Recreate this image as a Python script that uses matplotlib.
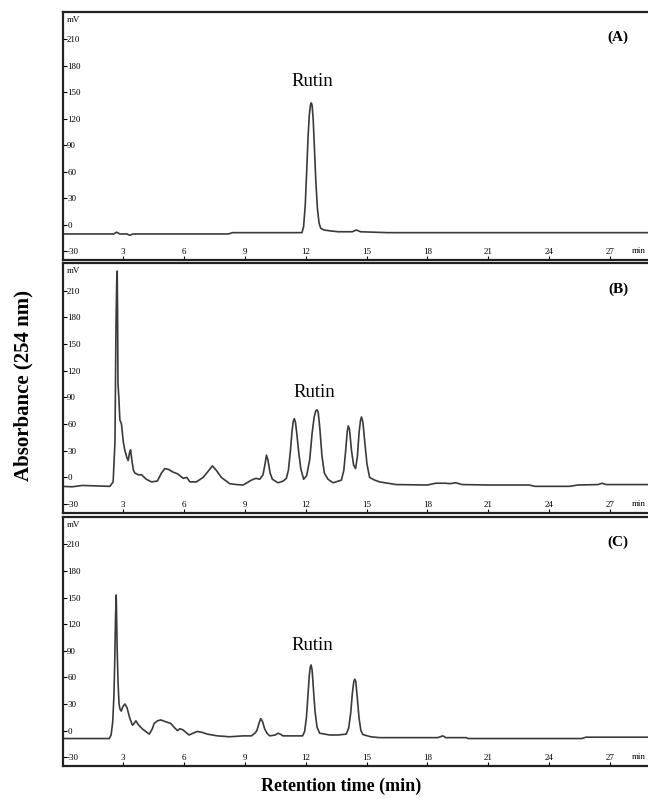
import matplotlib
matplotlib.use("Agg")
import matplotlib.pyplot as plt

plt.rcParams["font.family"] = ["Liberation Serif", "DejaVu Serif"]
plt.rcParams["axes.unicode_minus"] = False

# (A) rutin standard
time_a = [0.0, 1.0, 2.0, 2.55, 2.69, 2.85, 3.2, 3.34, 3.5, 5.0, 7.0, 8.2, 8.4,
          10.0, 11.6, 11.82, 11.9, 11.98, 12.05, 12.12, 12.18, 12.24, 12.28,
          12.32, 12.37, 12.43, 12.5, 12.58, 12.66, 12.74, 12.9, 13.2, 13.6,
          14.3, 14.5, 14.7, 16.0, 20.0, 24.0, 27.0, 29.6]
abs_a = [-10.5, -10.5, -10.5, -10.5, -8.5, -10.5, -10.5, -12, -10.5, -10.5,
         -10.5, -10.5, -9, -9, -9, -9, -2, 22, 60, 100, 124, 136, 138, 135,
         120, 88, 50, 18, 2, -4, -6, -7, -8, -8, -6, -8, -9, -9, -9, -9, -9]

# (B) extract
time_b = [0.0, 0.5, 1.0, 2.36, 2.52, 2.61, 2.66, 2.70, 2.72, 2.74, 2.76, 2.80,
          2.85, 2.93, 3.02, 3.10, 3.2, 3.26, 3.33, 3.38, 3.45, 3.52, 3.59, 3.75,
          3.92, 4.15, 4.41, 4.7, 4.9, 5.07, 5.25, 5.47, 5.7, 5.97, 6.15, 6.3,
          6.62, 6.95, 7.2, 7.41, 7.6, 7.85, 8.26, 8.6, 8.92, 9.33, 9.55, 9.74,
          9.9, 10.0, 10.07, 10.14, 10.25, 10.36, 10.64, 10.9, 11.05, 11.15,
          11.25, 11.33, 11.39, 11.44, 11.5, 11.57, 11.66, 11.76, 11.9, 12.05,
          12.2, 12.32, 12.42, 12.5, 12.56, 12.62, 12.7, 12.8, 12.92, 13.1,
          13.35, 13.76, 13.88, 13.97, 14.05, 14.1, 14.16, 14.26, 14.36, 14.46,
          14.55, 14.63, 14.7, 14.75, 14.82, 14.92, 15.02, 15.15, 15.4, 15.64,
          16.46, 18.0, 18.4, 18.9, 19.1, 19.4, 19.7, 21.0, 23.0, 23.3, 25.0,
          25.4, 26.4, 26.6, 26.8, 29.6]
abs_b = [-10, -10.5, -9, -10, -5, 40, 170, 225, 232, 180, 105, 90, 65, 60, 40,
         30, 22, 19, 28, 31, 18, 8, 5, 3, 3, -2, -5, -4, 5, 10, 9, 6, 4, -1, 0,
         -5, -5, 0, 7, 13, 8, 0, -7, -8, -8.5, -3, -1, -2, 3, 15, 25, 20, 5,
         -2, -6, -4, -1, 8, 30, 52, 63, 66, 62, 48, 28, 10, -2, 2, 20, 50, 68,
         75, 76, 73, 55, 25, 5, -2, -6, -3, 8, 30, 52, 58, 54, 30, 14, 10, 24,
         50, 64, 68, 62, 38, 15, 0, -3, -5, -8, -8.5, -6.5, -6.5, -7, -6, -8,
         -8.5, -8.5, -10, -10, -8.5, -8, -6.5, -8, -8]

# (C) extract
time_c = [0.0, 2.33, 2.42, 2.5, 2.56, 2.6, 2.64, 2.67, 2.69, 2.72, 2.76, 2.81,
          2.86, 2.92, 3.0, 3.1, 3.2, 3.34, 3.47, 3.55, 3.64, 3.75, 3.95, 4.3,
          4.45, 4.54, 4.7, 4.87, 5.1, 5.36, 5.55, 5.69, 5.8, 5.94, 6.1, 6.26,
          6.45, 6.67, 6.9, 7.15, 7.66, 8.26, 8.92, 9.33, 9.5, 9.6, 9.7, 9.79,
          9.88, 9.98, 10.1, 10.23, 10.5, 10.64, 10.75, 10.89, 11.4, 11.85,
          11.95, 12.04, 12.12, 12.18, 12.23, 12.27, 12.32, 12.38, 12.46, 12.56,
          12.69, 13.18, 13.6, 14.0, 14.12, 14.22, 14.3, 14.37, 14.42, 14.47,
          14.54, 14.63, 14.72, 14.82, 15.2, 15.64, 18.5, 18.76, 18.9, 19.9,
          20.0, 25.6, 25.8, 29.6]
abs_c = [-9, -9, -5, 10, 40, 80, 130, 153, 130, 90, 55, 30, 24, 22, 27, 30, 26,
         14, 6, 8, 11, 7, 2, -4, 2, 8, 11, 12, 10, 8, 3, 0, 2, 1, -2, -5, -3,
         -1, -2, -4, -6, -7, -6, -6, -3, 0, 8, 13.5, 10, 2, -3, -6, -5, -3,
         -4, -6, -6, -6, -1, 15, 42, 62, 72, 74, 68, 48, 22, 4, -3, -5, -5, -4,
         3, 20, 42, 55, 58, 55, 38, 14, 0, -4.5, -7, -8, -8, -6, -8, -8, -9,
         -9, -7.5, -7.5]

panels = [("(A)", time_a, abs_a, (12.35, 162)),
          ("(B)", time_b, abs_b, (12.44, 96)),
          ("(C)", time_c, abs_c, (12.35, 96))]

y_ticks = [-30, 0, 30, 60, 90, 120, 150, 180, 210]
x_ticks = [3, 6, 9, 12, 15, 18, 21, 24, 27]

fig = plt.figure(figsize=(6.48, 7.99), dpi=100)

# panel boxes: (bottom, height) in figure fraction
boxes = [(0.6746, 0.3104), (0.3579, 0.3129), (0.0413, 0.3116)]

for (tag, t, v, rutin_pos), (bottom, height) in zip(panels, boxes):
    ax = fig.add_axes([0.0972, bottom, 0.926, height])
    ax.plot(t, v, color="#3a3a3a", lw=1.2)
    ax.set_xlim(0.05, 29.6)
    ax.set_ylim(-40, 241)
    ax.set_xticks(x_ticks)
    ax.set_yticks(y_ticks)
    ax.tick_params(axis="both", direction="in", length=3, width=0.8,
                   labelsize=6.5, pad=-3)
    for lab in ax.get_yticklabels():
        lab.set_horizontalalignment("left")
    for lab in ax.get_xticklabels():
        lab.set_verticalalignment("bottom")
    for s in ax.spines.values():
        s.set_linewidth(1.6)
        s.set_color("#222222")
    ax.text(0.006, 0.985, "mV", transform=ax.transAxes, fontsize=6.5,
            ha="left", va="top")
    ax.text(28.05, -30, "min", fontsize=6.5, ha="left", va="center")
    ax.text(27.4, 212, tag, fontsize=11, fontweight="bold",
            ha="center", va="center")
    ax.text(rutin_pos[0], rutin_pos[1], "Rutin", fontsize=13.5,
            ha="center", va="center")

fig.text(0.037, 0.518, "Absorbance (254 nm)", rotation=90, fontsize=15,
         fontweight="bold", ha="center", va="center")
fig.text(0.526, 0.016, "Retention time (min)", fontsize=13,
         fontweight="bold", ha="center", va="center")

fig.savefig("out.png", dpi=100)
